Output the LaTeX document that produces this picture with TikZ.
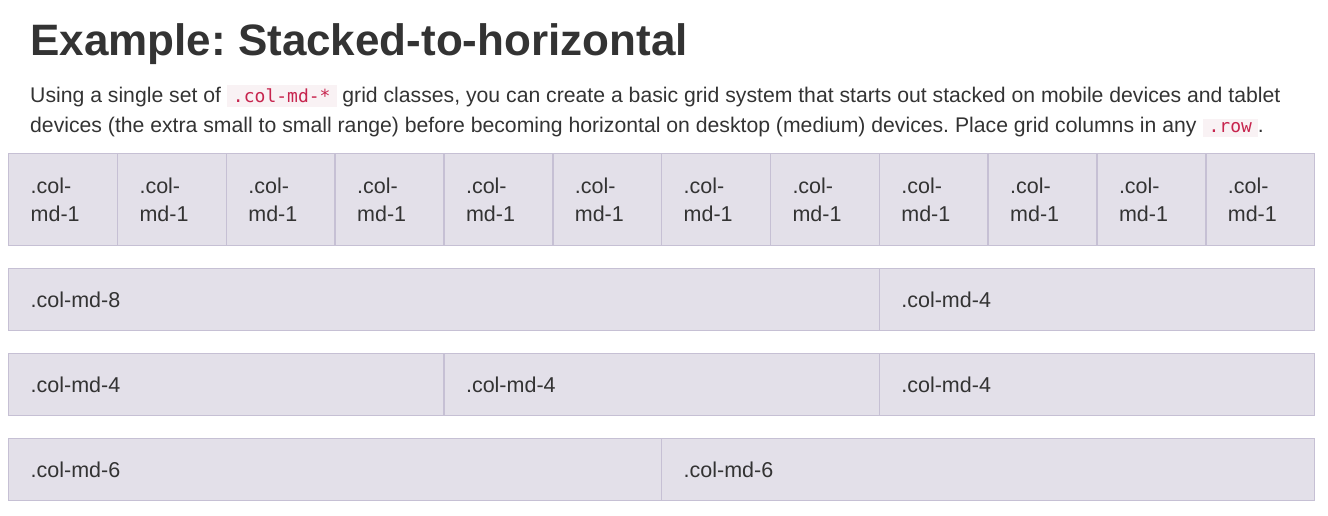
\documentclass[tikz,border=0pt]{standalone}
\usepackage{fontspec}
\setmainfont{Liberation Sans}
\setmonofont{DejaVu Sans Mono}
\usetikzlibrary{positioning}
\frenchspacing
\definecolor{cellfill}{HTML}{E3E0E9}
\definecolor{cellline}{HTML}{C6C0D4}
\definecolor{textgray}{HTML}{333333}
\definecolor{codered}{HTML}{C7254E}
\definecolor{codebg}{HTML}{F9F2F4}
\newcommand{\codebit}[1]{{\setlength{\fboxsep}{4pt}\colorbox{codebg}{\hspace{2pt}\color{codered}\ttfamily\fontsize{18}{20}\selectfont #1\hspace{2pt}}}}
\tikzset{
  gridcell/.style={draw=cellline, line width=1.4pt, fill=cellfill, anchor=north west, align=left,
    inner xsep=22pt, inner ysep=0pt, text=textgray, font=\fontsize{21.5}{28}\selectfont},
  headline/.style={anchor=base west, inner sep=0pt, text=textgray, font=\bfseries\fontsize{44}{50}\selectfont},
  bodytext/.style={anchor=base west, inner sep=0pt, align=left, text=textgray, font=\fontsize{21.2}{30}\selectfont}
}

\begin{document}
\begin{tikzpicture}[x=1pt, y=-1pt]
  \useasboundingbox (0,0) rectangle (1328,516);
  \node[headline] (title) at (30,56) {Example: Stacked-to-horizontal};
  \node[bodytext] (intro) at (30,133) {Using a single set of \codebit{.col-md-*} grid classes, you can create a basic grid system that starts out stacked on mobile devices and tablet\\
    devices (the extra small to small range) before becoming horizontal on desktop (medium) devices. Place grid columns in any \codebit{.row}.};

  % row of twelve
  \foreach \i in {0,...,11}
    \node[gridcell, minimum width=108.83pt, minimum height=92pt, text width=64.83pt] (one\i) at ({8+108.83*\i},153) {.col-\\md-1};

  % 8 + 4
  \node[gridcell, minimum width=870.67pt, minimum height=62pt, text width=826.67pt] (eight) at (8,268) {.col-md-8};
  \node[gridcell, minimum width=435.33pt, minimum height=62pt, text width=391.33pt] (fourA) at (878.67,268) {.col-md-4};

  % 4 + 4 + 4
  \foreach \i/\n in {0/fourB,1/fourC,2/fourD}
    \node[gridcell, minimum width=435.33pt, minimum height=62pt, text width=391.33pt] (\n) at ({8+435.33*\i},353) {.col-md-4};

  % 6 + 6
  \node[gridcell, minimum width=653pt, minimum height=62pt, text width=609pt] (sixA) at (8,438) {.col-md-6};
  \node[gridcell, minimum width=653pt, minimum height=62pt, text width=609pt] (sixB) at (661,438) {.col-md-6};
\end{tikzpicture}
\end{document}
